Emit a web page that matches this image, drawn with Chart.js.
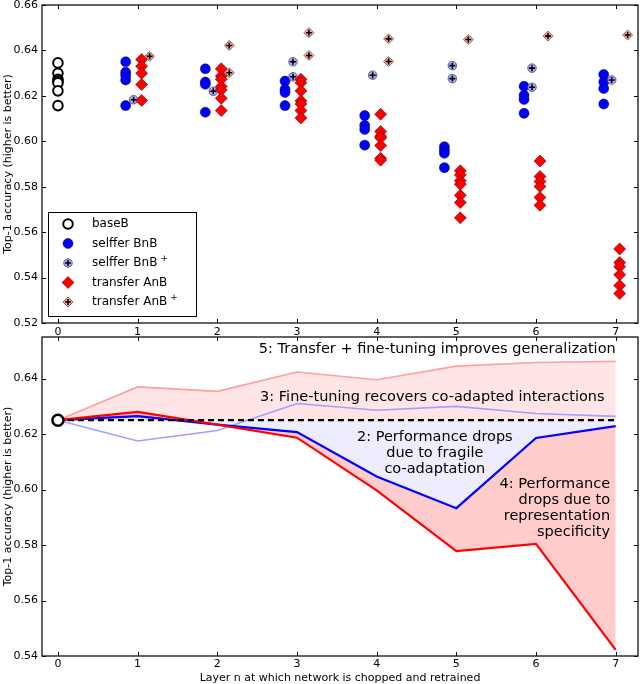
<!DOCTYPE html>
<html>
<head>
<meta charset="utf-8">
<script src="https://cdn.jsdelivr.net/npm/chart.js@4"></script>
<style>
  body { margin: 0; background: #fff; width: 640px; height: 684px; position: relative; overflow: hidden; }
  canvas { position: absolute; left: 0; }
  #haut { top: 0; }
  #bas { top: 330px; }
</style>
</head>
<body>
<canvas id="haut" width="640" height="342"></canvas>
<canvas id="bas" width="640" height="354"></canvas>
<script>
// Données
const layers = [0, 1, 2, 3, 4, 5, 6, 7];
const yTicksTop = [0.52, 0.54, 0.56, 0.58, 0.60, 0.62, 0.64, 0.66];
const yTicksBottom = [0.54, 0.56, 0.58, 0.60, 0.62, 0.64];

const baseB = [0.6345, 0.6299, 0.6273, 0.6265, 0.6258, 0.6222, 0.6157];

// une liste par couche, de 1 à 7
const selfferBnB = [
  [0.6350, 0.6304, 0.6290, 0.6270, 0.6157],
  [0.6319, 0.6261, 0.6251, 0.6128],
  [0.6265, 0.6229, 0.6215, 0.6157],
  [0.6113, 0.6070, 0.6052, 0.5983],
  [0.5976, 0.5961, 0.5947, 0.5884],
  [0.6242, 0.6203, 0.6184, 0.6123],
  [0.6294, 0.6261, 0.6232, 0.6164]
];
const selfferBnBplus = [
  [0.6183],
  [0.6220],
  [0.6350, 0.6284],
  [0.6291],
  [0.6333, 0.6276],
  [0.6322, 0.6238],
  [0.6270]
];
const transferAnB = [
  [0.6360, 0.6330, 0.6300, 0.6250, 0.6180],
  [0.6319, 0.6287, 0.6273, 0.6241, 0.6226, 0.6189, 0.6135],
  [0.6273, 0.6258, 0.6222, 0.6178, 0.6164, 0.6135, 0.6103],
  [0.6119, 0.6043, 0.6022, 0.6015, 0.5981, 0.5925, 0.5917],
  [0.5870, 0.5852, 0.5826, 0.5811, 0.5762, 0.5730, 0.5663],
  [0.5913, 0.5845, 0.5823, 0.5801, 0.5753, 0.5718],
  [0.5526, 0.5466, 0.5448, 0.5412, 0.5365, 0.5330]
];
const transferAnBplus = [
  [0.6374],
  [0.6422, 0.6302],
  [0.6478, 0.6378],
  [0.6451, 0.6351],
  [0.6448],
  [0.6463],
  [0.6468]
];

// Moyennes (graphique du bas)
const meanBaseB = 0.625;
const meanBnB = [0.625, 0.6265, 0.6234, 0.6207, 0.6047, 0.5933, 0.6186, 0.6229];
const meanBnBplus = [0.625, 0.6175, 0.6213, 0.6310, 0.6286, 0.6300, 0.6274, 0.6264];
const meanAnB = [0.625, 0.6280, 0.6234, 0.6187, 0.5997, 0.5778, 0.5804, 0.5422];
const meanAnBplus = [0.625, 0.6370, 0.6354, 0.6424, 0.6396, 0.6445, 0.6458, 0.6462];

const FONT = "'DejaVu Sans', 'Liberation Sans', sans-serif";

function points(perLayer, offset) {
  const pts = [];
  perLayer.forEach((vals, i) => {
    vals.forEach(v => pts.push({ x: layers[i + 1] + offset, y: v }));
  });
  return pts;
}

// pas de marge automatique autour des axes
function sansMarge(s) {
  s.paddingTop = 0;
  s.paddingBottom = 0;
  s.paddingLeft = 0;
  s.paddingRight = 0;
}

// Ticks intérieurs + cadre, façon matplotlib
const cadre = {
  id: 'cadre',
  afterDatasetsDraw(chart) {
    const { ctx, chartArea: a, scales: { x, y } } = chart;
    ctx.save();
    ctx.strokeStyle = '#000';
    ctx.lineWidth = 1;
    ctx.beginPath();
    x.ticks.forEach(t => {
      const px = Math.round(x.getPixelForValue(t.value)) + 0.5;
      ctx.moveTo(px, a.bottom); ctx.lineTo(px, a.bottom - 4);
      ctx.moveTo(px, a.top); ctx.lineTo(px, a.top + 4);
    });
    y.ticks.forEach(t => {
      const py = Math.round(y.getPixelForValue(t.value)) + 0.5;
      ctx.moveTo(a.left, py); ctx.lineTo(a.left + 4, py);
      ctx.moveTo(a.right, py); ctx.lineTo(a.right - 4, py);
    });
    ctx.stroke();
    ctx.lineWidth = 1.3;
    ctx.strokeStyle = '#111';
    ctx.strokeRect(a.left, a.top, a.right - a.left, a.bottom - a.top);
    ctx.restore();
  }
};

// Titre de l'axe Y
function titreY(chart) {
  const { ctx, chartArea: a } = chart;
  ctx.save();
  ctx.translate(8, (a.top + a.bottom) / 2);
  ctx.rotate(-Math.PI / 2);
  ctx.font = '11px ' + FONT;
  ctx.fillStyle = '#000';
  ctx.textAlign = 'center';
  ctx.textBaseline = 'middle';
  ctx.fillText('Top-1 accuracy (higher is better)', 0, 0);
  ctx.restore();
}

const styles = {
  baseB: { pointStyle: 'circle', radius: 4.8, backgroundColor: '#fff', borderColor: '#000', borderWidth: 2 },
  BnB: { pointStyle: 'circle', radius: 5, backgroundColor: '#0000ff', borderColor: '#000044', borderWidth: 0.5 },
  BnBplus: { pointStyle: 'circle', radius: 4.3, backgroundColor: '#aaaaff', borderColor: '#333366', borderWidth: 0.7 },
  AnB: { pointStyle: 'rectRot', radius: 6, backgroundColor: '#ff0000', borderColor: '#660000', borderWidth: 0.6 },
  AnBplus: { pointStyle: 'rectRot', radius: 5, backgroundColor: '#ffaaaa', borderColor: '#553333', borderWidth: 0.7 },
  cross: { pointStyle: 'cross', radius: 3, backgroundColor: '#000', borderColor: '#000', borderWidth: 1.6 }
};

function scatterSet(data, st, order) {
  return {
    data: data,
    order: order,
    pointStyle: st.pointStyle,
    pointRadius: st.radius,
    pointBackgroundColor: st.backgroundColor,
    pointBorderColor: st.borderColor,
    pointBorderWidth: st.borderWidth,
    showLine: false
  };
}

const legendeItems = [
  { label: 'baseB', sup: '', marks: [styles.baseB] },
  { label: 'selffer BnB', sup: '', marks: [styles.BnB] },
  { label: 'selffer BnB', sup: '+', marks: [styles.BnBplus, styles.cross] },
  { label: 'transfer AnB', sup: '', marks: [styles.AnB] },
  { label: 'transfer AnB', sup: '+', marks: [styles.AnBplus, styles.cross] }
];

const legende = {
  id: 'legende',
  afterDraw(chart) {
    const { ctx } = chart;
    titreY(chart);
    ctx.save();
    ctx.fillStyle = '#fff';
    ctx.fillRect(48.5, 212.5, 148, 104);
    ctx.strokeStyle = '#000';
    ctx.lineWidth = 1;
    ctx.strokeRect(48.5, 212.5, 148, 104);
    legendeItems.forEach((it, i) => {
      const y = 224 + i * 19.5;
      it.marks.forEach(m => {
        ctx.fillStyle = m.backgroundColor;
        ctx.strokeStyle = m.borderColor;
        ctx.lineWidth = m.borderWidth;
        Chart.helpers.drawPoint(ctx, { pointStyle: m.pointStyle, radius: m.radius, rotation: 0, borderWidth: m.borderWidth }, 68, y);
      });
      ctx.fillStyle = '#000';
      ctx.font = '12px ' + FONT;
      ctx.textAlign = 'left';
      ctx.textBaseline = 'middle';
      ctx.fillText(it.label, 92, y);
      if (it.sup) {
        const w = ctx.measureText(it.label).width;
        ctx.font = '9px ' + FONT;
        ctx.fillText(it.sup, 92 + w + 3, y - 4);
      }
    });
    ctx.restore();
  }
};

const xScale = (height, pad) => ({
  type: 'linear',
  min: -0.2,
  max: 7.28,
  grid: { display: false, drawTicks: false },
  border: { display: false },
  afterBuildTicks: s => { s.ticks = layers.map(v => ({ value: v })); },
  afterFit: s => { s.height = height; sansMarge(s); },
  ticks: { color: '#000', font: { family: FONT, size: 11 }, padding: pad, callback: v => String(v) }
});

const yScale = (min, max, tickVals) => ({
  min: min,
  max: max,
  grid: { display: false, drawTicks: false },
  border: { display: false },
  afterBuildTicks: s => { s.ticks = tickVals.map(v => ({ value: v })); },
  afterFit: s => { s.width = 42; sansMarge(s); },
  ticks: { color: '#000', font: { family: FONT, size: 11 }, padding: 4, callback: v => v.toFixed(2) }
});

// Graphique du haut : toutes les exécutions
new Chart(document.getElementById('haut'), {
  type: 'scatter',
  data: {
    datasets: [
      scatterSet(baseB.map(v => ({ x: layers[0], y: v })), styles.baseB, 10),
      scatterSet(points(selfferBnB, -0.15), styles.BnB, 9),
      scatterSet(points(selfferBnBplus, -0.05), styles.BnBplus, 8),
      scatterSet(points(selfferBnBplus, -0.05), styles.cross, 7),
      scatterSet(points(transferAnB, 0.05), styles.AnB, 6),
      scatterSet(points(transferAnBplus, 0.15), styles.AnBplus, 5),
      scatterSet(points(transferAnBplus, 0.15), styles.cross, 4)
    ]
  },
  options: {
    responsive: false,
    animation: false,
    layout: { autoPadding: false, padding: { top: 5, right: 2, left: 0, bottom: 0 } },
    plugins: { legend: { display: false }, tooltip: { enabled: false } },
    scales: {
      x: xScale(19, 3),
      y: yScale(0.52, 0.66, yTicksTop)
    }
  },
  plugins: [cadre, legende]
});

// Annotations du graphique du bas (coordonnées en données)
const annotations = [
  { lines: ['5: Transfer + fine-tuning improves generalization'], x: 7.0, y: 0.6505, align: 'right' },
  { lines: ['3: Fine-tuning recovers co-adapted interactions'], x: 6.86, y: 0.6334, align: 'right' },
  { lines: ['2: Performance drops', 'due to fragile', 'co-adaptation'], x: 4.73, y: 0.6189, align: 'center' },
  { lines: ['4: Performance', 'drops due to', 'representation', 'specificity'], x: 6.93, y: 0.6018, align: 'right' }
];

const textes = {
  id: 'textes',
  afterDraw(chart) {
    const { ctx, chartArea: a, scales: { x, y } } = chart;
    titreY(chart);
    ctx.save();
    ctx.fillStyle = '#000';
    ctx.font = '14.5px ' + FONT;
    ctx.textBaseline = 'middle';
    annotations.forEach(an => {
      ctx.textAlign = an.align;
      const px = x.getPixelForValue(an.x);
      const py = y.getPixelForValue(an.y);
      an.lines.forEach((l, i) => ctx.fillText(l, px, py + i * 15.8));
    });
    ctx.font = '11px ' + FONT;
    ctx.textAlign = 'center';
    ctx.fillText('Layer n at which network is chopped and retrained', (a.left + a.right) / 2, 348);
    ctx.restore();
  }
};

function ligne(values, color, width, extra) {
  return Object.assign({
    data: values.map((v, i) => ({ x: layers[i], y: v })),
    borderColor: color,
    borderWidth: width,
    pointRadius: 0,
    tension: 0,
    fill: false
  }, extra);
}

// Graphique du bas : moyennes
new Chart(document.getElementById('bas'), {
  type: 'line',
  data: {
    datasets: [
      ligne(layers.map(() => meanBaseB), '#000', 2.2, { borderDash: [6, 4], order: 1 }),
      ligne(meanAnBplus, '#ff9f9f', 1.6, { fill: { target: 0 }, backgroundColor: 'rgba(255,0,0,0.1)', order: 5 }),
      ligne(meanBnBplus, '#a0a0ff', 1.6, { order: 4 }),
      ligne(meanBnB, '#0000ff', 2.2, { fill: { target: 0 }, backgroundColor: 'rgba(0,0,255,0.07)', order: 3 }),
      ligne(meanAnB, '#ff0000', 2.2, { fill: { target: 3 }, backgroundColor: 'rgba(255,0,0,0.2)', order: 2 }),
      {
        data: [{ x: layers[0], y: meanBaseB }],
        showLine: false,
        pointStyle: 'circle',
        pointRadius: 5.5,
        pointBackgroundColor: '#fff',
        pointBorderColor: '#000',
        pointBorderWidth: 2.5,
        order: 0
      }
    ]
  },
  options: {
    responsive: false,
    animation: false,
    layout: { autoPadding: false, padding: { top: 7, right: 2, left: 0, bottom: 0 } },
    plugins: {
      legend: { display: false },
      tooltip: { enabled: false },
      filler: { drawTime: 'beforeDatasetsDraw' }
    },
    scales: {
      x: xScale(28, 2),
      y: yScale(0.54, 0.655, yTicksBottom)
    }
  },
  plugins: [cadre, textes]
});
</script>
</body>
</html>
